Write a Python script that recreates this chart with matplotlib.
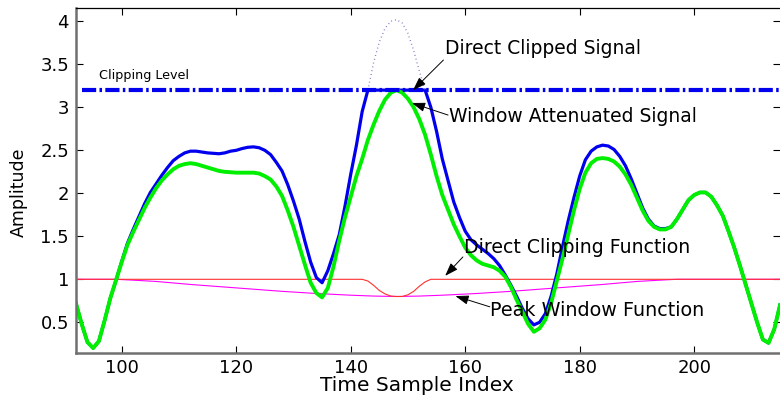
import numpy as np
import matplotlib
matplotlib.use('Agg')
import matplotlib.pyplot as plt

plt.rcParams['font.family'] = ['DejaVu Sans']

# sample index shared by the two signals
idx = np.arange(92, 216)

# direct clipped signal (blue)
clipped = [0.72, 0.48, 0.27, 0.20, 0.28, 0.52, 0.78, 0.99, 1.21, 1.42,
           1.58, 1.73, 1.88, 2.01, 2.11, 2.21, 2.30, 2.38, 2.43, 2.47,
           2.49, 2.49, 2.48, 2.47, 2.465, 2.46, 2.47, 2.49, 2.50, 2.52,
           2.535, 2.54, 2.53, 2.50, 2.45, 2.36, 2.26, 2.10, 1.91, 1.70,
           1.44, 1.20, 1.02, 0.96, 1.10, 1.30, 1.52, 1.85, 2.22, 2.56,
           2.95, 3.20, 3.20, 3.20, 3.20, 3.20, 3.20, 3.20, 3.20, 3.20,
           3.20, 3.20, 3.00, 2.72, 2.40, 2.15, 1.90, 1.72, 1.56, 1.46,
           1.40, 1.35, 1.30, 1.24, 1.16, 1.05, 0.93, 0.80, 0.66, 0.54,
           0.47, 0.50, 0.60, 0.80, 1.06, 1.38, 1.68, 1.95, 2.20, 2.39,
           2.49, 2.54, 2.56, 2.55, 2.51, 2.43, 2.32, 2.17, 2.00, 1.83,
           1.70, 1.62, 1.59, 1.59, 1.61, 1.70, 1.81, 1.92, 1.98, 2.01,
           2.01, 1.96, 1.86, 1.74, 1.56, 1.37, 1.16, 0.94, 0.72, 0.50,
           0.30, 0.26, 0.42, 0.70]

# window attenuated signal (green)
attenuated = [0.72, 0.48, 0.27, 0.20, 0.28, 0.52, 0.78, 0.99, 1.20, 1.40,
              1.55, 1.69, 1.83, 1.95, 2.06, 2.15, 2.22, 2.28, 2.32, 2.34,
              2.35, 2.34, 2.32, 2.30, 2.28, 2.26, 2.25, 2.245, 2.24, 2.24,
              2.24, 2.24, 2.23, 2.20, 2.16, 2.08, 1.97, 1.80, 1.61, 1.39,
              1.17, 0.96, 0.84, 0.79, 0.90, 1.15, 1.45, 1.72, 1.96, 2.20,
              2.40, 2.62, 2.80, 2.96, 3.09, 3.17, 3.20, 3.17, 3.10, 3.00,
              2.86, 2.68, 2.45, 2.20, 1.98, 1.81, 1.64, 1.50, 1.37, 1.28,
              1.22, 1.18, 1.16, 1.14, 1.10, 1.03, 0.91, 0.76, 0.62, 0.48,
              0.39, 0.43, 0.53, 0.72, 0.98, 1.24, 1.52, 1.80, 2.05, 2.24,
              2.35, 2.40, 2.41, 2.40, 2.37, 2.31, 2.22, 2.10, 1.95, 1.80,
              1.68, 1.61, 1.58, 1.58, 1.61, 1.70, 1.81, 1.92, 1.98, 2.01,
              2.01, 1.96, 1.86, 1.74, 1.56, 1.37, 1.16, 0.94, 0.72, 0.50,
              0.30, 0.26, 0.42, 0.70]

# original peak above the clipping level (dotted)
peak_idx = [143, 144, 145, 146, 147, 148, 149, 150, 151, 152, 153]
peak_val = [3.20, 3.52, 3.76, 3.92, 4.00, 4.02, 3.98, 3.86, 3.66, 3.42, 3.20]

# direct clipping function (red)
clipfn_idx = [92, 142, 143, 144, 145, 146, 147, 148, 149, 150, 151, 152, 153, 154, 215]
clipfn_val = [1.0, 1.0, 0.98, 0.93, 0.87, 0.83, 0.805, 0.80, 0.80, 0.82, 0.86, 0.92, 0.97, 1.0, 1.0]

# peak window function (magenta)
win_idx = [92, 99, 102, 106, 112, 117, 122, 128, 134, 140, 144, 148,
           152, 156, 162, 168, 174, 179, 184, 190, 194, 197, 215]
win_val = [1.0, 1.0, 0.99, 0.975, 0.94, 0.915, 0.89, 0.86, 0.835, 0.815, 0.805, 0.80,
           0.805, 0.815, 0.835, 0.86, 0.89, 0.915, 0.94, 0.975, 0.99, 1.0, 1.0]

clip_level = 3.2
xticks = [100, 120, 140, 160, 180, 200]
yticks = [0.5, 1, 1.5, 2, 2.5, 3, 3.5, 4]
ytick_labels = ['0.5', '1', '1.5', '2', '2.5', '3', '3.5', '4']

fig = plt.figure(figsize=(7.8, 3.96), dpi=100)
ax = fig.add_axes([0.0974, 0.1086, 0.9026, 0.8712])

ax.plot(win_idx, win_val, color='#ff00ff', lw=0.8)
ax.plot(clipfn_idx, clipfn_val, color='#ff3030', lw=0.8)
ax.plot(idx, clipped, color='#0000ee', lw=2.3)
ax.plot(idx, attenuated, color='#00ee00', lw=2.8)
ax.plot(peak_idx, peak_val, color='#7070c0', lw=1.0, ls=(0, (0.6, 2.2)))
ax.plot([93, 215], [clip_level, clip_level], color='#0000ee', lw=3.0,
        dashes=(3.4, 0.8, 0.6, 0.8))

ax.text(96, 3.33, 'Clipping Level', fontsize=9.2)

# labels with arrows (arrow tail, arrow head, text anchor)
arrow = dict(arrowstyle='-|>,head_length=0.8,head_width=0.28', color='black',
             lw=0.7, mutation_scale=10, shrinkA=0, shrinkB=0)
ax.annotate('', xy=(150.9, 3.2), xytext=(156.2, 3.55), arrowprops=arrow)
ax.annotate('', xy=(150.7, 3.05), xytext=(157.0, 2.91), arrowprops=arrow)
ax.annotate('', xy=(156.5, 1.04), xytext=(159.6, 1.26), arrowprops=arrow)
ax.annotate('', xy=(158.3, 0.805), xytext=(164.3, 0.68), arrowprops=arrow)
ax.text(156.5, 3.68, 'Direct Clipped Signal', fontsize=13.5, va='center')
ax.text(157.2, 2.89, 'Window Attenuated Signal', fontsize=13.5, va='center')
ax.text(159.8, 1.375, 'Direct Clipping Function', fontsize=13.6, va='center')
ax.text(164.4, 0.64, 'Peak Window Function', fontsize=13.8, va='center')

ax.set_xlim(92, 215)
ax.set_ylim(0.143, 4.155)
ax.set_xticks(xticks)
ax.set_yticks(yticks)
ax.set_yticklabels(ytick_labels)
ax.tick_params(direction='in', length=5, width=0.8, labelsize=13,
               top=True, right=True, pad=5)
ax.tick_params(axis='x', pad=4)
ax.set_xlabel('Time Sample Index', fontsize=14.5)
ax.set_ylabel('Amplitude', fontsize=12.5)
ax.xaxis.set_label_coords(0.484, -0.066)
ax.yaxis.set_label_coords(-0.068, 0.467)

for side in ['left', 'bottom']:
    ax.spines[side].set_color('#707070')
    ax.spines[side].set_linewidth(1.8)
ax.spines['top'].set_linewidth(0.9)
ax.spines['right'].set_visible(False)

fig.savefig('out.png', dpi=100)
